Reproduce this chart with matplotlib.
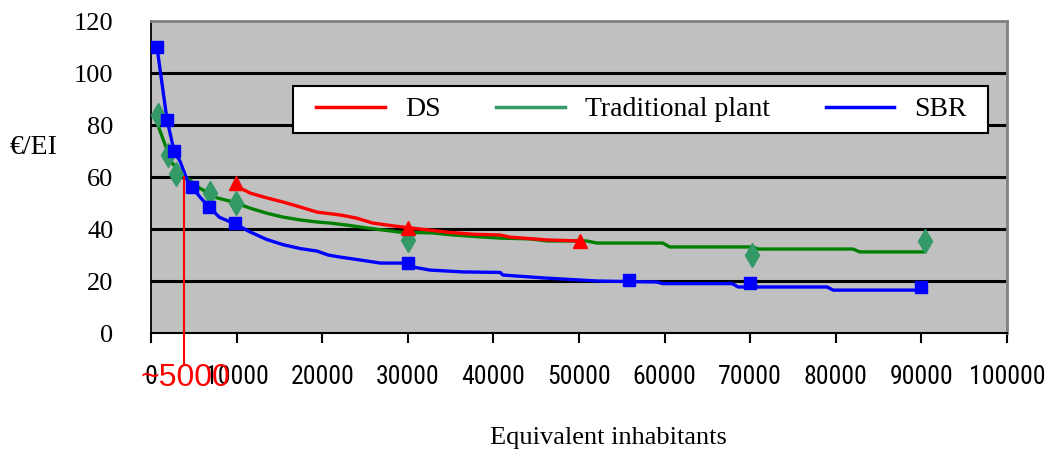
import matplotlib
matplotlib.use("Agg")
import matplotlib.pyplot as plt
from matplotlib.lines import Line2D
from matplotlib.patches import Rectangle
from matplotlib import font_manager as fm

# ---- data ----
sbr_curve_x = [700, 1870, 2700, 3400, 4200, 4800, 5800, 6800, 8000, 9800, 11500, 13500, 15400,
               17400, 19400, 20700, 22100, 24400, 26800, 29400, 30600, 32600, 36400, 40800,
               41100, 45800, 52100, 59100, 59800, 67900, 68600, 79000, 79700, 90400]
sbr_curve_y = [110, 82, 70, 66, 59, 56, 52, 48.5, 44.5, 42, 39, 36, 34,
               32.5, 31.5, 30, 29.2, 28.1, 26.9, 26.9, 25.4, 24.2, 23.5, 23.3,
               22.3, 21.2, 20, 19.6, 19, 19, 17.7, 17.7, 16.5, 16.5]
sbr_mark_x = [700, 1900, 2700, 4800, 6800, 9800, 30000, 55900, 70000, 90000]
sbr_mark_y = [110, 82, 70, 56, 48.5, 42.3, 26.8, 20.4, 19.1, 17.7]

trad_curve_x = [800, 1870, 2450, 3700, 5700, 7700, 9600, 11600, 13500, 15400, 17400, 19400,
                20900, 22900, 25200, 29100, 32900, 35300, 38800, 40800, 44300, 46300, 50900,
                52100, 59800, 60600, 70300, 70900, 82000, 82800, 90200]
trad_curve_y = [80, 70.4, 65.4, 61, 55.7, 52, 50.4, 48, 46.1, 44.6, 43.5, 42.7,
                42.3, 41.5, 40.4, 38.8, 38.5, 37.7, 36.9, 36.5, 36.2, 35.4, 35.4,
                34.6, 34.6, 33.1, 33.1, 32.3, 32.3, 31.2, 31.2]
trad_mark_x = [800, 2000, 2950, 6900, 9900, 30000, 70200, 90400]
trad_mark_y = [84, 68.5, 61, 53.8, 50, 35.8, 30, 35.5]

ds_curve_x = [9900, 10400, 11600, 13500, 15400, 17400, 19400, 22100, 24000, 25900, 28300,
              31400, 34600, 37600, 40800, 41900, 46300, 50100]
ds_curve_y = [57, 55.8, 53.8, 52, 50.4, 48.5, 46.5, 45.4, 44.2, 42.3, 41.2,
              40, 38.8, 38, 37.7, 36.9, 35.8, 35.4]
ds_mark_x = [9900, 30000, 50100]
ds_mark_y = [57.7, 40.5, 35.4]

x_ticks = [0, 10000, 20000, 30000, 40000, 50000, 60000, 70000, 80000, 90000, 100000]
y_ticks = [0, 20, 40, 60, 80, 100, 120]
series_names = ["DS", "Traditional plant", "SBR"]
cross_x = 3860
cross_y = 60

serif = ["Liberation Serif", "DejaVu Serif"]

# pick a condensed sans for the x tick labels if one is installed
narrow_family = None
for cand in ["Liberation Sans Narrow", "Roboto Condensed", "Open Sans Condensed",
             "DejaVu Sans Condensed", "Arial Narrow"]:
    try:
        fm.findfont(fm.FontProperties(family=cand), fallback_to_default=False)
        narrow_family = cand
        break
    except Exception:
        pass
if narrow_family is not None:
    xt_family, xt_size = [narrow_family, "DejaVu Sans"], 18.5
else:
    xt_family, xt_size = ["Liberation Sans", "DejaVu Sans"], 16

fig = plt.figure(figsize=(10.45, 4.54), dpi=100)
ax = fig.add_axes([0.1445, 0.2665, 0.9636 - 0.1445, 0.9537 - 0.2665])
ax.set_facecolor("#C0C0C0")
ax.set_xlim(0, 100000)
ax.set_ylim(0, 120)

for yv in [20, 40, 60, 80, 100]:
    ax.axhline(yv, color="black", lw=2.2, zorder=1)

red = "#FF0000"
green = "#008000"
green_m = "#339966"
blue = "#0000FF"

ax.plot(trad_curve_x, trad_curve_y, color=green, lw=2.4, zorder=3)
ax.plot(ds_curve_x, ds_curve_y, color=red, lw=2.4, zorder=3)
ax.plot(sbr_curve_x, sbr_curve_y, color=blue, lw=2.4, zorder=3)
ax.plot(trad_mark_x, trad_mark_y, ls="none", marker="d", ms=12, color=green_m, zorder=4)
ax.plot(ds_mark_x, ds_mark_y, ls="none", marker="^", ms=10, color=red, zorder=4)
ax.plot(sbr_mark_x, sbr_mark_y, ls="none", marker="s", ms=8, color=blue, zorder=4)

# vertical marker line to ~5000 label
ax.plot([cross_x, cross_x], [cross_y, -12], color=red, lw=1.5, clip_on=False, zorder=5)
ax.text(cross_x + 150, -17.3, "~5000", color=red, fontsize=23,
        family=["Liberation Sans", "DejaVu Sans"],
        ha="center", va="center", clip_on=False, zorder=6)

ax.set_xticks(x_ticks)
ax.set_xticklabels([str(v) for v in x_ticks], family=xt_family, fontsize=xt_size)
ax.set_yticks(y_ticks)
ax.set_yticklabels([str(v) for v in y_ticks], family=serif, fontsize=19)
ax.tick_params(axis="x", direction="out", length=7, width=1.5, pad=16, color="black")
ax.tick_params(axis="y", length=0, pad=27)

for s in ["top", "right"]:
    ax.spines[s].set_color("#808080")
    ax.spines[s].set_linewidth(2)
ax.spines["left"].set_color("black")
ax.spines["left"].set_linewidth(1.3)
ax.spines["bottom"].set_color("black")
ax.spines["bottom"].set_linewidth(1.5)

fig.text(10 / 1045, 1 - 148 / 454, "€/EI", family=serif, fontsize=20, ha="left", va="center")
fig.text(608 / 1045, 1 - 438 / 454, "Equivalent inhabitants", family=serif, fontsize=19,
         ha="center", va="center")

# legend box drawn manually, legend itself frameless inside it
bx0, bx1 = (293 - 151) / 856, (988 - 151) / 856
by0, by1 = (333 - 133) / 312, (333 - 86) / 312
ax.add_patch(Rectangle((bx0, by0), bx1 - bx0, by1 - by0, transform=ax.transAxes,
                       facecolor="white", edgecolor="black", lw=1.5, zorder=7, clip_on=False))
handles = [Line2D([], [], color=red, lw=2.5),
           Line2D([], [], color=green_m, lw=2.5),
           Line2D([], [], color=blue, lw=2.5)]
leg = ax.legend(handles, series_names, ncol=3, loc="center left",
                bbox_to_anchor=((316 - 151) / 856, (by0 + by1) / 2),
                prop={"family": serif, "size": 20}, frameon=False,
                handlelength=2.48, handletextpad=0.72, columnspacing=2.0,
                borderpad=0, borderaxespad=0)
leg.set_zorder(8)

fig.savefig("out.png", dpi=100)
